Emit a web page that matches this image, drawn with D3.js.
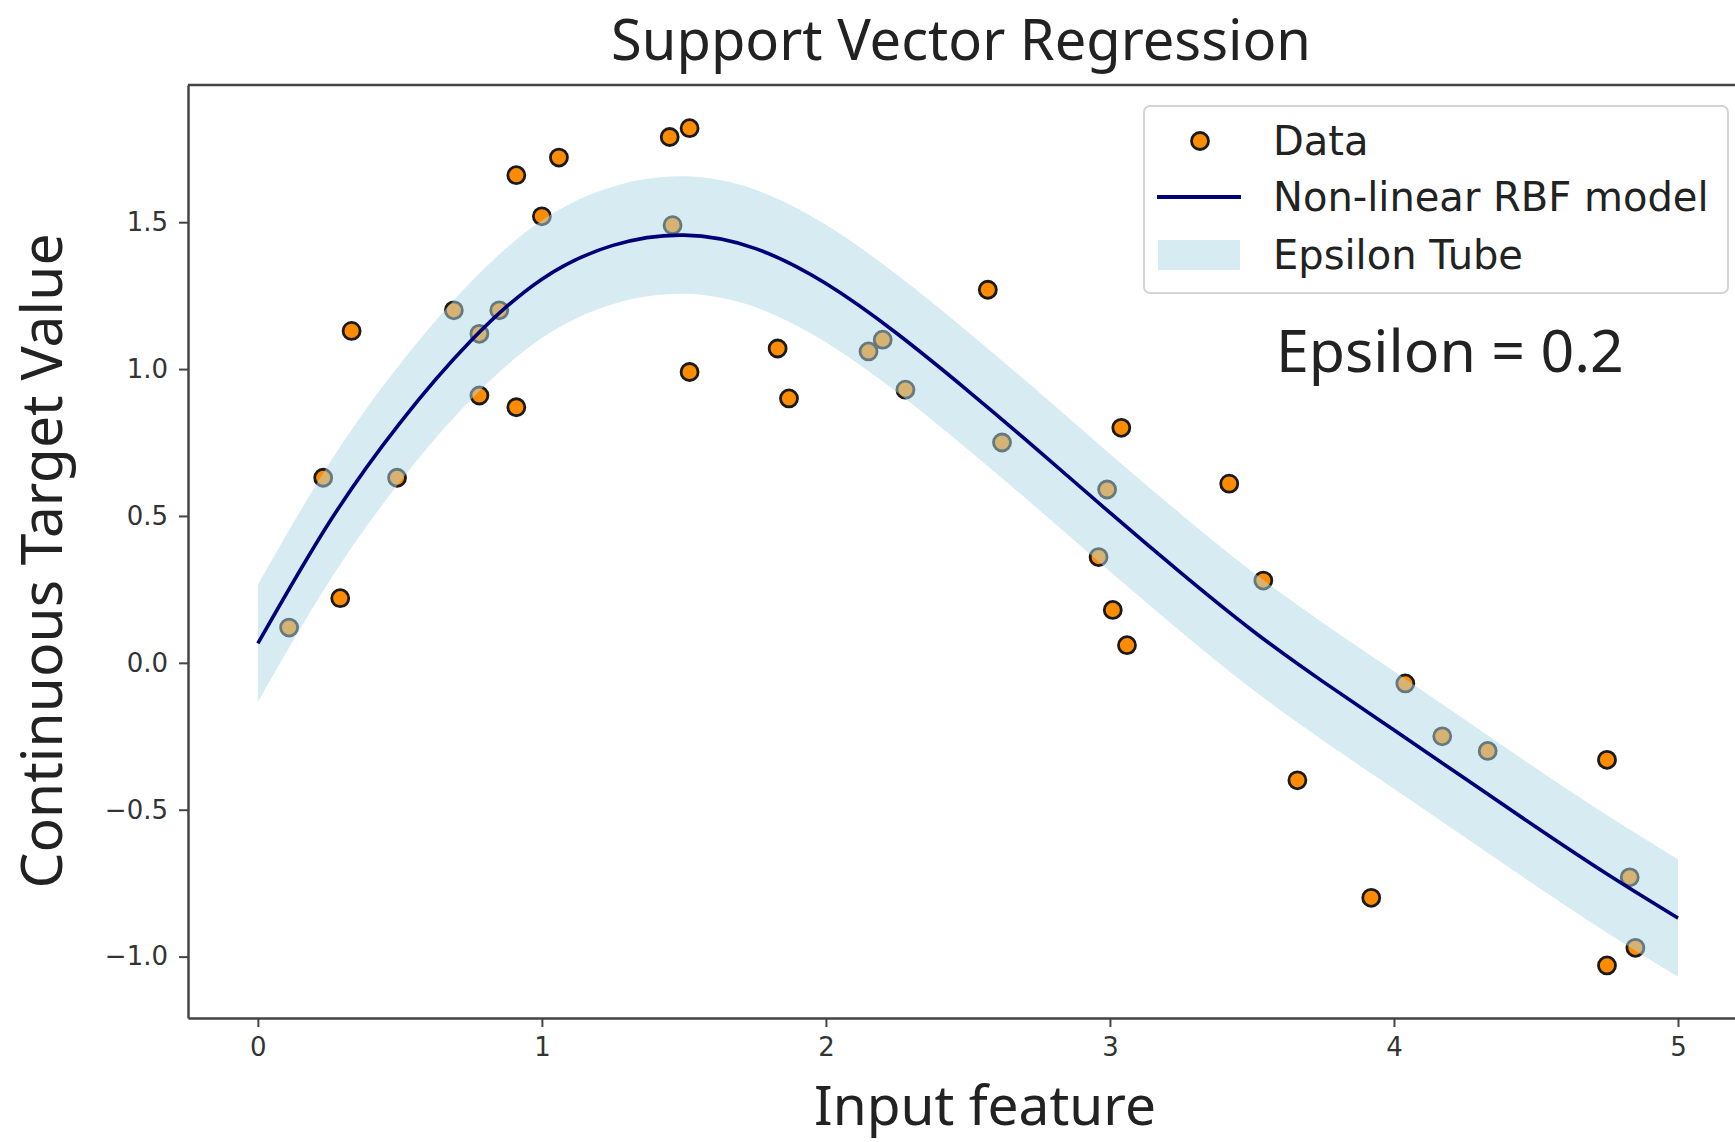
<!DOCTYPE html>
<html>
<head>
<meta charset="utf-8">
<script src="https://cdn.jsdelivr.net/npm/d3@7"></script>
<style>
  body { margin: 0; background: #fff; }
  svg { display: block; }
</style>
</head>
<body>
<div id="chart"></div>
<script>
// data
const dataX = [0.11, 0.23, 0.29, 0.33, 0.49, 0.69, 0.78, 0.78, 0.85, 0.91,
               0.91, 1.00, 1.06, 1.45, 1.46, 1.52, 1.52, 1.83, 1.87, 2.15,
               2.20, 2.28, 2.57, 2.62, 2.96, 2.99, 3.01, 3.04, 3.06, 3.42,
               3.54, 3.66, 3.92, 4.04, 4.17, 4.33, 4.75, 4.75, 4.83, 4.85];
const dataY = [0.12, 0.63, 0.22, 1.13, 0.63, 1.20, 1.12, 0.91, 1.20, 1.66,
               0.87, 1.52, 1.72, 1.79, 1.49, 1.82, 0.99, 1.07, 0.90, 1.06,
               1.10, 0.93, 1.27, 0.75, 0.36, 0.59, 0.18, 0.80, 0.06, 0.61,
               0.28, -0.40, -0.80, -0.07, -0.25, -0.30, -0.33, -1.03, -0.73, -0.97];

// fitted RBF curve, sampled every 0.25
const modelX = [0, 0.25, 0.5, 0.75, 1.0, 1.25, 1.5, 1.75, 2.0, 2.25, 2.5,
                2.75, 3.0, 3.25, 3.5, 3.75, 4.0, 4.25, 4.5, 4.75, 5.0];
const modelY = [0.066, 0.476, 0.816, 1.096, 1.306, 1.421, 1.456, 1.411, 1.291, 1.121, 0.926,
                0.721, 0.511, 0.306, 0.111, -0.064, -0.229, -0.394, -0.559, -0.719, -0.869];
const epsilon = 0.2;

const xTicks = [0, 1, 2, 3, 4, 5];
const yTicks = [-1.0, -0.5, 0.0, 0.5, 1.0, 1.5];

const W = 1735, H = 1142;
const plotLeft = 188, plotRight = 1749, plotTop = 85, plotBottom = 1018;

const svg = d3.select("#chart").append("svg")
    .attr("width", W)
    .attr("height", H);

const x = d3.scaleLinear().domain([-0.246, 5.25]).range([plotLeft, plotRight]);
const y = d3.scaleLinear().domain([-1.209, 1.967]).range([plotBottom, plotTop]);

const points = dataX.map((d, i) => ({x: d, y: dataY[i]}));
const model = modelX.map((d, i) => ({x: d, y: modelY[i]}));

// scatter first, the tube goes over it
svg.append("g").selectAll("circle")
    .data(points)
    .enter()
    .append("circle")
    .attr("cx", d => x(d.x))
    .attr("cy", d => y(d.y))
    .attr("r", 8.5)
    .attr("fill", "#ff8c00")
    .attr("stroke", "#1a1a1a")
    .attr("stroke-width", 2.8);

const area = d3.area()
    .x(d => x(d.x))
    .y0(d => y(d.y - epsilon))
    .y1(d => y(d.y + epsilon))
    .curve(d3.curveNatural);

svg.append("path")
    .datum(model)
    .attr("d", area)
    .attr("fill", "#add8e6")
    .attr("fill-opacity", 0.5);

const line = d3.line()
    .x(d => x(d.x))
    .y(d => y(d.y))
    .curve(d3.curveNatural);

svg.append("path")
    .datum(model)
    .attr("d", line)
    .attr("fill", "none")
    .attr("stroke", "#000078")
    .attr("stroke-width", 3.6);

// axes
const xAxis = svg.append("g")
    .attr("transform", "translate(0," + plotBottom + ")")
    .call(d3.axisBottom(x).tickValues(xTicks).tickFormat(d3.format("d"))
        .tickSize(9).tickSizeOuter(0).tickPadding(11));

const yAxis = svg.append("g")
    .attr("transform", "translate(" + plotLeft + ",0)")
    .call(d3.axisLeft(y).tickValues(yTicks).tickFormat(d3.format(".1f"))
        .tickSize(9).tickSizeOuter(0).tickPadding(11));

[xAxis, yAxis].forEach(g => {
    g.select(".domain").attr("stroke", "#444").attr("stroke-width", 2.5);
    g.selectAll(".tick line").attr("stroke", "#444").attr("stroke-width", 2);
    g.selectAll(".tick text")
        .attr("fill", "#333")
        .style("font-family", "DejaVu Sans")
        .style("font-size", "26px");
});

// top and right spines
svg.append("line")
    .attr("x1", plotLeft).attr("x2", plotRight)
    .attr("y1", plotTop).attr("y2", plotTop)
    .attr("stroke", "#444").attr("stroke-width", 2.5);
svg.append("line")
    .attr("x1", plotRight).attr("x2", plotRight)
    .attr("y1", plotTop).attr("y2", plotBottom)
    .attr("stroke", "#444").attr("stroke-width", 2.5);

// titles
svg.append("text")
    .attr("x", 961).attr("y", 60)
    .attr("text-anchor", "middle")
    .style("font-family", "Noto Sans")
    .style("font-size", "56px")
    .attr("fill", "#222")
    .text("Support Vector Regression");

svg.append("text")
    .attr("x", 985).attr("y", 1125)
    .attr("text-anchor", "middle")
    .style("font-family", "Noto Sans")
    .style("font-size", "55px")
    .attr("fill", "#222")
    .text("Input feature");

svg.append("text")
    .attr("transform", "translate(62,561) rotate(-90)")
    .attr("text-anchor", "middle")
    .style("font-family", "Noto Sans")
    .style("font-size", "57px")
    .attr("fill", "#222")
    .text("Continuous Target Value");

svg.append("text")
    .attr("x", 1276).attr("y", 372)
    .style("font-family", "Noto Sans")
    .style("font-size", "59px")
    .attr("fill", "#222")
    .text("Epsilon = 0.2");

// legend
const legend = svg.append("g");
legend.append("rect")
    .attr("x", 1144).attr("y", 106)
    .attr("width", 584).attr("height", 187)
    .attr("rx", 6)
    .attr("fill", "#fff").attr("fill-opacity", 0.8)
    .attr("stroke", "#d4d4d4").attr("stroke-width", 2);

legend.append("circle")
    .attr("cx", 1200).attr("cy", 141)
    .attr("r", 8.5)
    .attr("fill", "#ff8c00")
    .attr("stroke", "#1a1a1a")
    .attr("stroke-width", 2.8);

legend.append("line")
    .attr("x1", 1157).attr("x2", 1241)
    .attr("y1", 197).attr("y2", 197)
    .attr("stroke", "#000078").attr("stroke-width", 4);

legend.append("rect")
    .attr("x", 1158).attr("y", 240)
    .attr("width", 82).attr("height", 30)
    .attr("fill", "#add8e6").attr("fill-opacity", 0.5);

const legendLabels = ["Data", "Non-linear RBF model", "Epsilon Tube"];
const legendBase = [155, 211, 269];
legend.selectAll("text.lab")
    .data(legendLabels)
    .enter()
    .append("text")
    .attr("class", "lab")
    .attr("x", 1273)
    .attr("y", (d, i) => legendBase[i])
    .style("font-family", "DejaVu Sans")
    .style("font-size", "40px")
    .attr("fill", "#222")
    .text(d => d);
</script>
</body>
</html>
